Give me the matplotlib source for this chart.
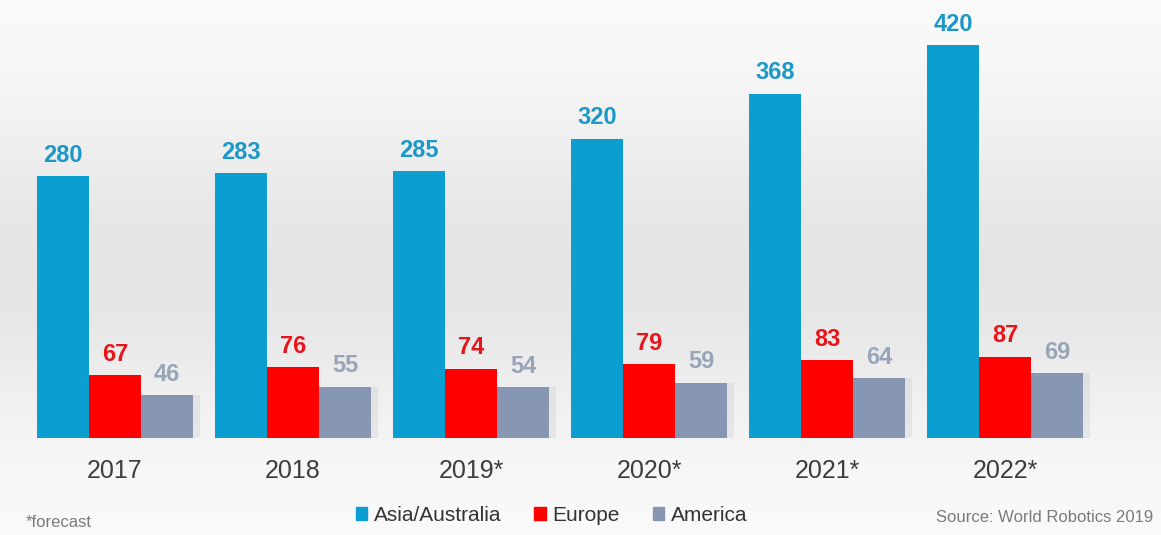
import numpy as np
import matplotlib.pyplot as plt
from matplotlib.patches import Patch

plt.rcParams['font.family'] = ['Liberation Sans', 'DejaVu Sans']

years = ['2017', '2018', '2019*', '2020*', '2021*', '2022*']
asia = [280, 283, 285, 320, 368, 420]
europe = [67, 76, 74, 79, 83, 87]
america = [46, 55, 54, 59, 64, 69]

c_asia = '#0a9fd0'
c_europe = '#fe0000'
c_america = '#8797b3'

fig = plt.figure(figsize=(11.61, 5.35), dpi=100)

# soft grey backdrop, lighter at top and bottom
bg = fig.add_axes([0, 0, 1, 1], zorder=0)
t = np.linspace(0, 1, 256)
shade = 0.985 - 0.085 * np.exp(-((t - 0.5) / 0.3) ** 2)
img = np.repeat(shade[::-1, None], 2, axis=1)
bg.imshow(np.dstack([img, img, img]), aspect='auto', extent=[0, 1, 0, 1])
bg.axis('off')

ax = fig.add_axes([0, 97 / 535, 1, 438 / 535], zorder=1)
ax.patch.set_alpha(0)
x = np.arange(len(years))
w = 0.292

ba = ax.bar(x - w, asia, w, color=c_asia)
be = ax.bar(x, europe, w, color=c_europe)
# light shadow beside the grey bars
ax.bar(x + w + 0.04, america, w, color='#000000', alpha=0.05)
bm = ax.bar(x + w, america, w, color=c_america)

for i in range(len(years)):
    ax.text(x[i] - w, asia[i] + 10, str(asia[i]), ha='center', va='bottom',
            color='#1b98c8', fontsize=17, fontweight='bold')
    ax.text(x[i], europe[i] + 10, str(europe[i]), ha='center', va='bottom',
            color='#e8141a', fontsize=17, fontweight='bold')
    ax.text(x[i] + w, america[i] + 10, str(america[i]), ha='center', va='bottom',
            color='#98a4b8', fontsize=17, fontweight='bold')

ax.set_xlim(-115 / 178, (1161 - 115) / 178)
ax.set_ylim(0, 468)
ax.set_xticks(x)
ax.set_xticklabels(years, fontsize=18, color='#3c3c3c')
ax.tick_params(axis='x', length=0, pad=15)
ax.set_yticks([])
for s in ax.spines.values():
    s.set_visible(False)

handles = [Patch(color=c_asia), Patch(color=c_europe), Patch(color=c_america)]
fig.legend(handles, ['Asia/Australia', 'Europe', 'America'], loc='center',
           bbox_to_anchor=(0.475, 0.037), ncol=3, frameon=False, fontsize=15,
           handlelength=0.55, handleheight=0.55, handletextpad=0.3,
           columnspacing=1.6, labelcolor='#333333')

fig.text(0.022, 0.024, '*forecast', fontsize=12, color='#7a7a7a', va='center')
fig.text(0.993, 0.032, 'Source: World Robotics 2019', fontsize=12,
         color='#7a7a7a', va='center', ha='right')

fig.savefig('out.png', dpi=100)
